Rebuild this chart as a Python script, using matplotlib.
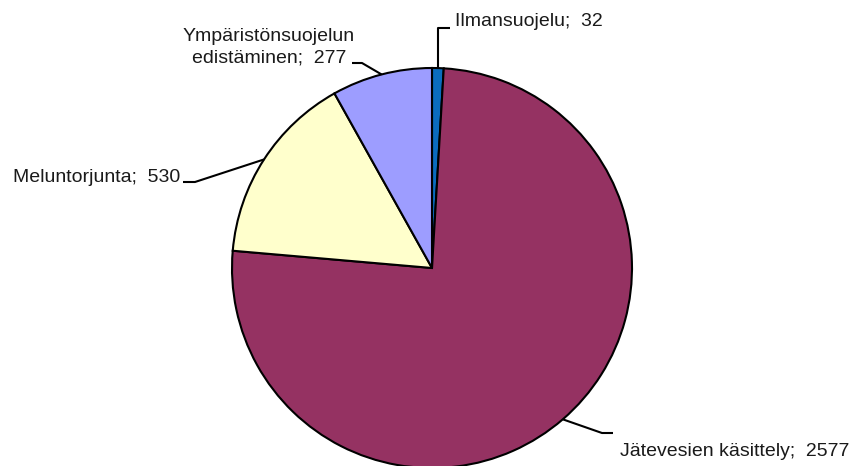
import numpy as np
import matplotlib
matplotlib.use('Agg')
import matplotlib.pyplot as plt

labels = ['Ilmansuojelu', 'Jätevesien käsittely', 'Meluntorjunta',
          'Ympäristönsuojelun\nedistäminen']
values = [32, 2577, 530, 277]
colors = ['#0b6cbf', '#953262', '#ffffcc', '#9d9dff']

plt.rcParams['font.family'] = ['Liberation Sans', 'DejaVu Sans']

fig = plt.figure(figsize=(8.55, 4.66), dpi=100)
ax = fig.add_axes([0, 0, 1, 1])

cx, cy, r = 432, 198, 200
wedges, _ = ax.pie(values, colors=colors, startangle=90, counterclock=False,
                   center=(cx, cy), radius=r,
                   wedgeprops=dict(edgecolor='black', linewidth=1.5))
ax.set_xlim(0, 855)
ax.set_ylim(0, 466)
ax.set_aspect('equal')
ax.axis('off')

# (elbow point, end of horizontal, text pos, ha)
layout = [
    ((0, 438), (450, 438), (455, 444), 'left'),
    ((602, 33), (613, 33), (620, 14), 'left'),
    ((195, 284), (183, 284), (180, 289), 'right'),
    ((362, 403), (352, 403), (269, 419), 'center'),
]

for w, lab, v, (elbow, hend, tpos, ha) in zip(wedges, labels, values, layout):
    mid = np.deg2rad((w.theta1 + w.theta2) / 2)
    px, py = cx + r * np.cos(mid), cy + r * np.sin(mid)
    if lab == 'Ilmansuojelu':
        elbow = (px, elbow[1])
    ax.plot([px, elbow[0], hend[0]], [py, elbow[1], hend[1]],
            color='black', lw=1.5, solid_capstyle='butt')
    ax.text(tpos[0], tpos[1], f'{lab};  {v}', ha=ha, va='center',
            fontsize=14, color='#1a1a1a', multialignment='center',
            linespacing=1.32)

fig.savefig('out.png', dpi=100)
